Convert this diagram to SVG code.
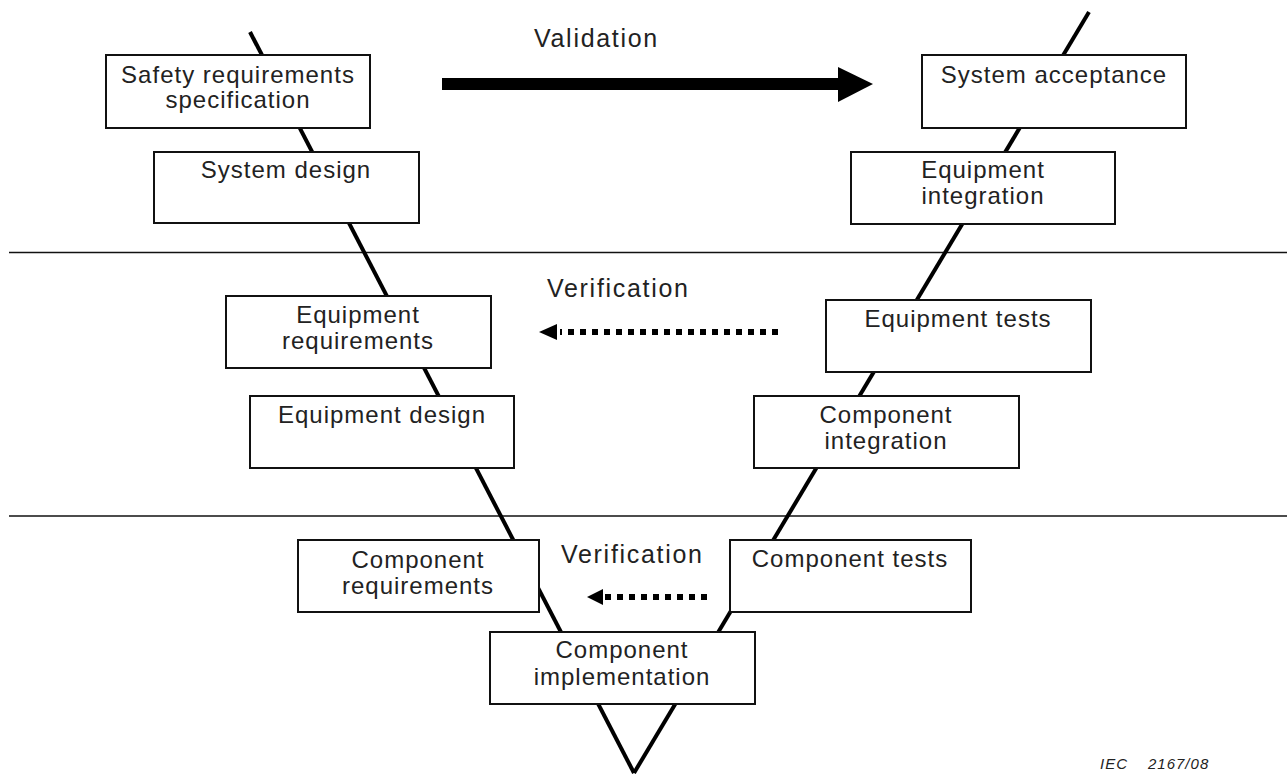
<svg xmlns="http://www.w3.org/2000/svg" width="1287" height="774" viewBox="0 0 1287 774">
  <style>
    .box { fill: #fff; stroke: #111; stroke-width: 2; }
    .lbl { font-family: "Liberation Sans", Arial, sans-serif; font-size: 24px; letter-spacing: 1px; fill: #222; text-anchor: middle; }
    .cap { font-family: "Liberation Sans", Arial, sans-serif; font-size: 25px; letter-spacing: 1.7px; fill: #222; }
    .vee { stroke: #000; stroke-width: 4; fill: none; }
    .sep { stroke: #111; stroke-width: 1.6; }
    .dots { stroke: #000; stroke-width: 6; stroke-dasharray: 6 6; fill: none; }
    .ref { font-family: "Liberation Sans", Arial, sans-serif; font-size: 15px; font-style: italic; letter-spacing: 1px; fill: #222; }
  </style>
  <rect width="1287" height="774" fill="#fff"/>

  <!-- level separators -->
  <g id="separators">
    <line class="sep" x1="9" y1="252.5" x2="1287" y2="252.5"/>
    <line class="sep" x1="9" y1="516" x2="1287" y2="516"/>
  </g>

  <!-- V-model connectors -->
  <g id="connectors">
    <line class="vee" x1="250" y1="32" x2="634" y2="773"/>
    <line class="vee" x1="1089" y1="12" x2="634" y2="773"/>
    <!-- validation arrow -->
    <rect x="442" y="78" width="398" height="12" fill="#000"/>
    <path d="M838 67 L873 84 L838 102 Z" fill="#000"/>
    <!-- verification arrow, equipment level -->
    <line class="dots" x1="778" y1="332" x2="560" y2="332"/>
    <path d="M539 332 L557 324 L557 340 Z" fill="#000"/>
    <!-- verification arrow, component level -->
    <line class="dots" x1="707" y1="597" x2="601" y2="597"/>
    <path d="M587 597 L603 589 L603 605 Z" fill="#000"/>
  </g>

  <g id="labels">
    <text class="cap" x="534" y="47">Validation</text>
    <text class="cap" x="547" y="297">Verification</text>
    <text class="cap" x="561" y="563">Verification</text>
  </g>

  <g id="safety-requirements">
    <rect class="box" x="106" y="55" width="264" height="73"/>
    <text class="lbl" x="238" y="83">Safety requirements</text>
    <text class="lbl" x="238" y="108">specification</text>
  </g>
  <g id="system-design">
    <rect class="box" x="154" y="152" width="265" height="71"/>
    <text class="lbl" x="286" y="178">System design</text>
  </g>
  <g id="equipment-requirements">
    <rect class="box" x="226" y="296" width="265" height="72"/>
    <text class="lbl" x="358" y="323">Equipment</text>
    <text class="lbl" x="358" y="349">requirements</text>
  </g>
  <g id="equipment-design">
    <rect class="box" x="250" y="396" width="264" height="72"/>
    <text class="lbl" x="382" y="423">Equipment design</text>
  </g>
  <g id="component-requirements">
    <rect class="box" x="298" y="540" width="241" height="72"/>
    <text class="lbl" x="418" y="568">Component</text>
    <text class="lbl" x="418" y="594">requirements</text>
  </g>
  <g id="component-implementation">
    <rect class="box" x="490" y="632" width="265" height="72"/>
    <text class="lbl" x="622" y="658">Component</text>
    <text class="lbl" x="622" y="685">implementation</text>
  </g>
  <g id="component-tests">
    <rect class="box" x="730" y="540" width="241" height="72"/>
    <text class="lbl" x="850" y="567">Component tests</text>
  </g>
  <g id="component-integration">
    <rect class="box" x="754" y="396" width="265" height="72"/>
    <text class="lbl" x="886" y="423">Component</text>
    <text class="lbl" x="886" y="449">integration</text>
  </g>
  <g id="equipment-tests">
    <rect class="box" x="826" y="300" width="265" height="72"/>
    <text class="lbl" x="958" y="327">Equipment tests</text>
  </g>
  <g id="equipment-integration">
    <rect class="box" x="851" y="152" width="264" height="72"/>
    <text class="lbl" x="983" y="178">Equipment</text>
    <text class="lbl" x="983" y="204">integration</text>
  </g>
  <g id="system-acceptance">
    <rect class="box" x="922" y="55" width="264" height="73"/>
    <text class="lbl" x="1054" y="83">System acceptance</text>
  </g>

  <text class="ref" x="1100" y="769">IEC<tspan x="1148">2167/08</tspan></text>
</svg>
